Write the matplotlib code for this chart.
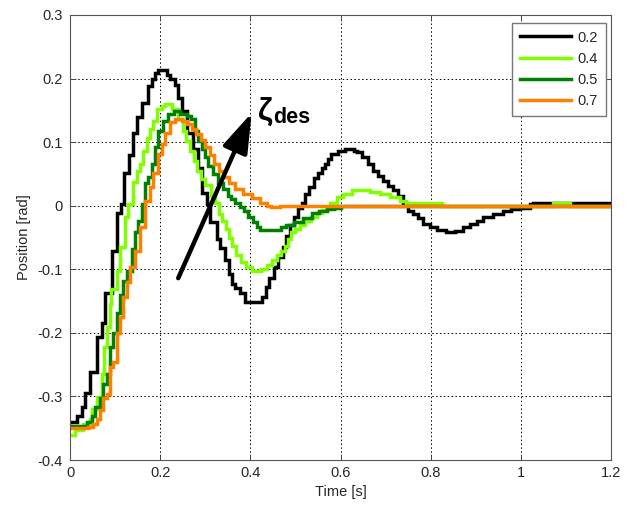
import matplotlib
matplotlib.use("Agg")
import matplotlib.pyplot as plt

# Step responses of the joint position for several desired damping ratios
t_02 = [0, 0.015, 0.026, 0.034, 0.045, 0.06, 0.071, 0.078, 0.093, 0.104,
        0.114, 0.12, 0.131, 0.14, 0.149, 0.159, 0.173, 0.182, 0.189, 0.196,
        0.215, 0.222, 0.233, 0.24, 0.249, 0.26, 0.273, 0.284, 0.293, 0.304,
        0.311, 0.325, 0.333, 0.344, 0.352, 0.359, 0.366, 0.377, 0.388, 0.426,
        0.435, 0.442, 0.452, 0.462, 0.472, 0.48, 0.488, 0.496, 0.506, 0.514,
        0.522, 0.53, 0.541, 0.551, 0.558, 0.565, 0.572, 0.58, 0.595, 0.61,
        0.63, 0.636, 0.648, 0.661, 0.672, 0.683, 0.694, 0.705, 0.717, 0.728,
        0.738, 0.749, 0.76, 0.772, 0.783, 0.798, 0.813, 0.833, 0.855, 0.871,
        0.887, 0.902, 0.916, 0.938, 0.96, 0.979, 0.998, 1.02, 1.027, 1.2]
y_02 = [-0.34, -0.33, -0.317, -0.295, -0.262, -0.206, -0.185, -0.138, -0.071, -0.012,
        0.003, 0.052, 0.08, 0.115, 0.14, 0.162, 0.188, 0.2, 0.209, 0.213,
        0.205, 0.2, 0.19, 0.17, 0.149, 0.115, 0.089, 0.06, 0.02, 0.003,
        -0.026, -0.052, -0.067, -0.086, -0.107, -0.123, -0.13, -0.138, -0.152, -0.144,
        -0.128, -0.113, -0.097, -0.081, -0.065, -0.047, -0.031, -0.018, -0.003, 0.005,
        0.019, 0.029, 0.044, 0.052, 0.06, 0.066, 0.074, 0.081, 0.086, 0.089,
        0.086, 0.084, 0.076, 0.066, 0.055, 0.047, 0.039, 0.031, 0.024, 0.016,
        0.003, -0.008, -0.013, -0.02, -0.028, -0.034, -0.038, -0.042, -0.039, -0.034,
        -0.028, -0.024, -0.018, -0.013, -0.008, -0.005, -0.003, 0.002, 0.004, 0.004]

t_04 = [0, 0.011, 0.029, 0.044, 0.048, 0.059, 0.070, 0.075, 0.081, 0.089,
        0.092, 0.104, 0.111, 0.122, 0.129, 0.140, 0.148, 0.155, 0.162, 0.170,
        0.177, 0.184, 0.192, 0.203, 0.210, 0.226, 0.240, 0.250, 0.258, 0.266,
        0.274, 0.281, 0.290, 0.300, 0.312, 0.322, 0.330, 0.337, 0.345, 0.353,
        0.360, 0.368, 0.379, 0.390, 0.404, 0.424, 0.438, 0.449, 0.460, 0.468,
        0.476, 0.483, 0.491, 0.499, 0.510, 0.521, 0.534, 0.547, 0.560, 0.570,
        0.577, 0.592, 0.606, 0.625, 0.643, 0.665, 0.688, 0.710, 0.732, 0.746,
        0.825, 1.071, 1.109, 1.2]
y_04 = [-0.361, -0.353, -0.343, -0.335, -0.320, -0.301, -0.264, -0.222, -0.191, -0.154,
        -0.131, -0.102, -0.065, -0.018, 0.003, 0.037, 0.055, 0.066, 0.086, 0.107,
        0.121, 0.133, 0.152, 0.157, 0.160, 0.152, 0.137, 0.118, 0.102, 0.086,
        0.071, 0.055, 0.042, 0.033, 0.016, 0.005, -0.013, -0.024, -0.036, -0.050,
        -0.063, -0.078, -0.089, -0.097, -0.102, -0.099, -0.094, -0.086, -0.078, -0.071,
        -0.063, -0.052, -0.042, -0.036, -0.030, -0.024, -0.018, -0.012, -0.006, 0.000,
        0.005, 0.013, 0.019, 0.025, 0.024, 0.021, 0.019, 0.013, 0.008, 0.005,
        0.000, 0.005, 0.000, 0.000]

t_05 = [0, 0.037, 0.048, 0.055, 0.067, 0.073, 0.081, 0.089, 0.096, 0.104,
        0.111, 0.118, 0.126, 0.137, 0.144, 0.151, 0.159, 0.166, 0.174, 0.181,
        0.188, 0.196, 0.207, 0.218, 0.230, 0.244, 0.259, 0.268, 0.277, 0.285,
        0.292, 0.299, 0.307, 0.318, 0.329, 0.340, 0.350, 0.358, 0.366, 0.376,
        0.385, 0.395, 0.405, 0.414, 0.421, 0.468, 0.480, 0.497, 0.517, 0.537,
        0.553, 0.570, 0.585, 0.600, 1.2]
y_05 = [-0.347, -0.340, -0.330, -0.317, -0.303, -0.280, -0.265, -0.222, -0.200, -0.168,
        -0.140, -0.118, -0.102, -0.068, -0.042, -0.024, 0.002, 0.035, 0.045, 0.066,
        0.092, 0.118, 0.133, 0.144, 0.149, 0.144, 0.141, 0.136, 0.118, 0.102,
        0.089, 0.076, 0.062, 0.050, 0.036, 0.026, 0.016, 0.010, 0.004, -0.002,
        -0.008, -0.017, -0.026, -0.034, -0.038, -0.034, -0.031, -0.026, -0.020, -0.012,
        -0.008, -0.005, -0.003, 0.000, 0.000]

t_07 = [0, 0.041, 0.052, 0.059, 0.067, 0.074, 0.081, 0.089, 0.096, 0.104,
        0.111, 0.118, 0.126, 0.133, 0.144, 0.155, 0.166, 0.177, 0.185, 0.196,
        0.203, 0.211, 0.222, 0.233, 0.248, 0.259, 0.270, 0.280, 0.290, 0.300,
        0.310, 0.320, 0.330, 0.340, 0.352, 0.365, 0.384, 0.403, 0.421, 0.436,
        0.446, 0.466, 1.2]
y_07 = [-0.350, -0.348, -0.343, -0.335, -0.322, -0.303, -0.296, -0.254, -0.246, -0.201,
        -0.175, -0.144, -0.120, -0.097, -0.071, -0.034, 0.008, 0.029, 0.052, 0.081,
        0.097, 0.115, 0.131, 0.137, 0.133, 0.128, 0.120, 0.113, 0.103, 0.092,
        0.080, 0.066, 0.054, 0.045, 0.036, 0.027, 0.018, 0.012, 0.005, 0.000,
        -0.002, 0.000, 0.000]

labels = ["0.2", "0.4", "0.5", "0.7"]
colors = ["#000000", "#80ff00", "#008000", "#ff8000"]

x_ticks = [0, 0.2, 0.4, 0.6, 0.8, 1.0, 1.2]
x_tick_labels = ["0", "0.2", "0.4", "0.6", "0.8", "1", "1.2"]
y_ticks = [-0.4, -0.3, -0.2, -0.1, 0.0, 0.1, 0.2, 0.3]
y_tick_labels = ["-0.4", "-0.3", "-0.2", "-0.1", "0", "0.1", "0.2", "0.3"]

# arrow showing increasing desired damping
arrow_tail = (0.240, -0.114)
arrow_tip = (0.403, 0.146)

plt.rcParams["font.family"] = ["Liberation Sans", "DejaVu Sans"]

fig = plt.figure(figsize=(6.29, 5.05), dpi=100)
ax = fig.add_axes([0.1113, 0.0891, 0.8601, 0.8812])

series = [(t_02, y_02), (t_04, y_04), (t_05, y_05), (t_07, y_07)]
for (t, y), lab, col in zip(series, labels, colors):
    ax.plot(t, y, drawstyle="steps-post", color=col, lw=2.5, label=lab,
            solid_joinstyle="miter")

ax.set_xlim(0, 1.2)
ax.set_ylim(-0.4, 0.3)
ax.set_xticks(x_ticks)
ax.set_xticklabels(x_tick_labels)
ax.set_yticks(y_ticks)
ax.set_yticklabels(y_tick_labels)

text_col = "#262626"
ax.tick_params(direction="in", length=4, width=0.7, colors="#444444",
               labelcolor=text_col, labelsize=10.5, top=True, right=True)
ax.tick_params(axis="y", pad=5)
ax.tick_params(axis="x", pad=4)
for sp in ax.spines.values():
    sp.set_color("#555555")
    sp.set_linewidth(0.8)

ax.grid(True, color="#000000", linestyle=(0, (1.5, 2.5)), linewidth=0.7)
ax.set_axisbelow(True)

ax.set_xlabel("Time [s]", fontsize=10.5, color=text_col, labelpad=4)
ax.set_ylabel("Position [rad]", fontsize=10.5, color=text_col, labelpad=5)

ax.annotate("", xy=arrow_tip, xytext=arrow_tail,
            arrowprops=dict(arrowstyle="-|>,head_length=1.1,head_width=0.36",
                            mutation_scale=22, lw=3.2, color="black",
                            shrinkA=0, shrinkB=0))
ax.text(0.416, 0.135, "ζ", fontsize=23, fontweight="bold", color="black",
        ha="left", va="baseline")
ax.text(0.451, 0.130, "des", fontsize=15.5, fontweight="bold", color="black",
        ha="left", va="baseline")

leg = ax.legend(loc="upper right", bbox_to_anchor=(0.99, 0.983),
                borderaxespad=0, fancybox=False, framealpha=1,
                edgecolor="#777777", fontsize=10.5, handlelength=3.5,
                handletextpad=0.45, labelspacing=0.5, borderpad=0.55)
leg.get_frame().set_linewidth(1.0)
for txt in leg.get_texts():
    txt.set_color(text_col)

fig.savefig("out.png", dpi=100)
